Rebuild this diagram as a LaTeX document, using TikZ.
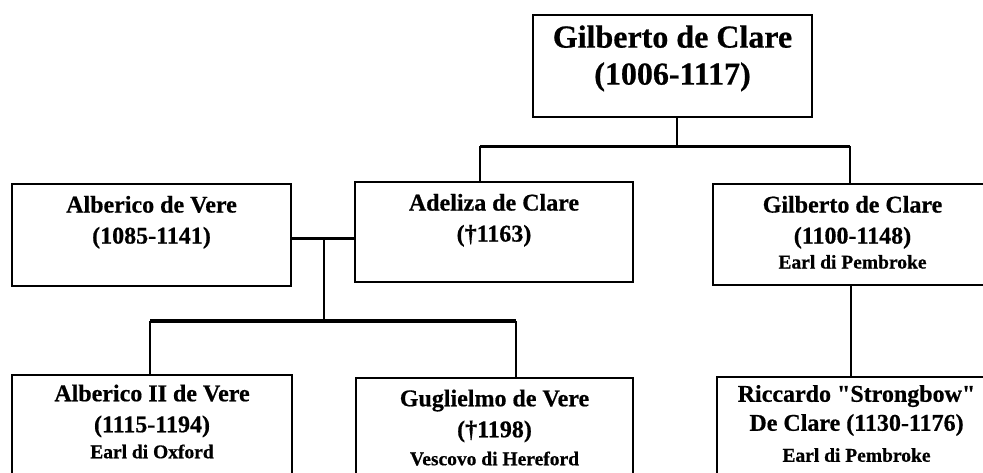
\documentclass[tikz,border=0pt]{standalone}
\usepackage{fontspec}
\setmainfont{Liberation Serif}[Ligatures=TeXOff, BoldFeatures={FakeBold=0.6}]
\newcommand{\piccolo}{\fontsize{19.5}{22}\selectfont}
\tikzset{
  persona/.style={draw, line width=2.6pt, minimum width=#1, minimum height=102pt, inner sep=0pt},
  nome/.style={font=\bfseries\fontsize{24}{31}\selectfont, align=center, inner sep=0pt, anchor=north},
  ramo/.style={line width=2.1pt},
  bus/.style={line width=3.3pt}
}
\begin{document}
\begin{tikzpicture}[x=1pt,y=1pt]
		\useasboundingbox (0,0) rectangle (983,472);
		\begin{scope}
			\clip (0,0) rectangle (983,472);
		\node[persona=279pt] (gil0) at (672.5,406) {};
		\node[persona=279pt] (alb) at (151.5,237) {};
		\node[persona=278pt, minimum height=100pt] (ade) at (494,240) {};
		\node[persona=279pt, minimum height=101pt] (gil) at (852.5,237.5) {};
		\node[persona=280pt] (alb2) at (152,46) {};
		\node[persona=277pt] (gug) at (494.5,43) {};
		\node[persona=279pt] (ric) at (856.5,44) {};
		\node[nome, font=\bfseries\fontsize{32}{37}\selectfont] (tgil0) at ([yshift=-11.5pt]gil0.north) {Gilberto de Clare\\(1006-1117)};
		\node[nome] (talb) at ([yshift=-13pt]alb.north) {Alberico de Vere\\(1085-1141)};
		\node[nome] (tade) at ([yshift=-13pt]ade.north) {Adeliza de Clare\\(\textdagger1163)};
		\node[nome] (tgil) at ([yshift=-13pt]gil.north) {Gilberto de Clare\\(1100-1148)\\[-6pt]{\piccolo Earl di Pembroke}};
		\node[nome] (talb2) at ([yshift=-10.7pt]alb2.north) {Alberico II de Vere\\(1115-1194)\\[-5pt]{\piccolo Earl di Oxford}};
		\node[nome] (tgug) at ([yshift=-12.7pt]gug.north) {Guglielmo de Vere\\(\textdagger1198)\\[-3pt]{\piccolo Vescovo di Hereford}};
		\node[nome, font=\bfseries\fontsize{24}{29}\selectfont] (tric) at ([yshift=-9.2pt]ric.north) {Riccardo "Strongbow"\\De Clare (1130-1176)\\[2pt]{\piccolo Earl di Pembroke}};
		\coordinate (figL) at (480,325.5);
		\coordinate (figR) at (850,325.5);
		\coordinate (nozze) at (324,233.5);
		\coordinate (nipL) at (150,151);
		\coordinate (nipR) at (516,151);
		\draw[ramo] ([xshift=4.5pt]gil0.south) -- ([xshift=4.5pt]gil0.south |- figL);
		\draw[bus] (figL) -- (figR);
		\draw[ramo] (figL) -- (figL |- ade.north);
		\draw[ramo] (figR) -- (figR |- gil.north);
		\draw[bus] (alb.east |- nozze) -- (ade.west |- nozze);
		\draw[ramo] (nozze) -- (nozze |- nipL);
		\draw[bus] (nipL) -- (nipR);
		\draw[ramo] (nipL) -- (nipL |- alb2.north);
		\draw[ramo] (nipR) -- (nipR |- gug.north);
		\draw[ramo] ([xshift=-1.5pt]gil.south) -- ([xshift=-1.5pt]gil.south |- ric.north);
		\end{scope}
		\end{tikzpicture}
\end{document}
